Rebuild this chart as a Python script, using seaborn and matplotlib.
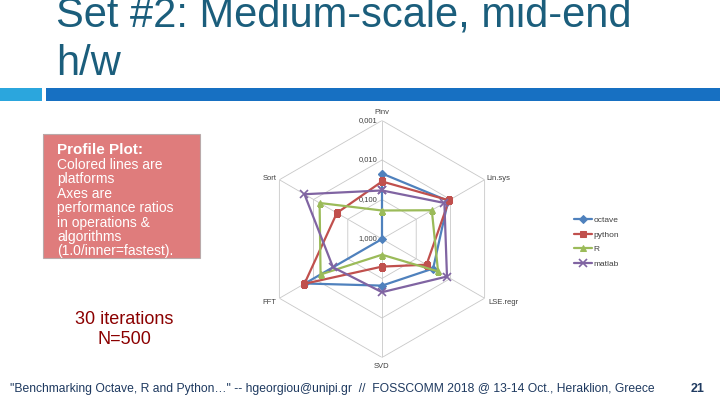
import numpy as np
import pandas as pd
import matplotlib
matplotlib.use("Agg")
import matplotlib.pyplot as plt
from matplotlib.patches import Rectangle
import seaborn as sns

# ---------------- data ----------------
axis_labels = ["Pinv", "Lin.sys", "LSE.regr", "SVD", "FFT", "Sort"]
platforms = ["octave", "python", "R", "matlab"]
octave = [0.022, 0.0117, 0.032, 0.066, 0.0056, 1.0]
python = [0.035, 0.011, 0.050, 0.20, 0.0054, 0.048]
r_vals = [0.19, 0.035, 0.023, 0.40, 0.016, 0.015]
matlab = [0.059, 0.015, 0.0126, 0.045, 0.037, 0.0054]
ring_values = [1.0, 0.1, 0.01, 0.001]
ring_labels = ["1,000", "0,100", "0,010", "0,001"]

series = {"octave": octave, "python": python, "R": r_vals, "matlab": matlab}
colors = {"octave": "#4F81BD", "python": "#C0504D", "R": "#9BBB59", "matlab": "#8064A2"}
markers = {"octave": "D", "python": "s", "R": "^", "matlab": "x"}
msizes = {"octave": 4, "python": 5, "R": 5, "matlab": 5.5}

n = len(axis_labels)
angles = [2 * np.pi * i / n for i in range(n)]

rows = []
for p in platforms:
    vals = series[p]
    for i in range(n + 1):
        k = i % n
        rows.append({"platform": p, "theta": 2 * np.pi * i / n,
                     "r": -np.log10(vals[k])})
df = pd.DataFrame(rows)

# ---------------- figure ----------------
sns.set_theme(style="white")
plt.rcParams["font.family"] = ["Liberation Sans", "DejaVu Sans"]

W, H = 720, 405
fig = plt.figure(figsize=(7.2, 4.05), dpi=100)
fig.patch.set_facecolor("white")

def fx(px):
    return px / W

def fy(py):
    return 1 - py / H

# title (top of first line is cut by the slide edge, as in the original)
title_color = "#1B5E7C"
fig.text(fx(56), fy(27), "Set #2: Medium-scale, mid-end", fontsize=30,
         color=title_color, va="baseline", ha="left")
fig.text(fx(56), fy(75), "h/w", fontsize=30, color=title_color,
         va="baseline", ha="left")

# header bars
fig.add_artist(Rectangle((fx(0), fy(101)), fx(42), 13 / H,
                         transform=fig.transFigure, color="#2BA6DD", lw=0))
fig.add_artist(Rectangle((fx(46), fy(101)), 1 - fx(46), 13 / H,
                         transform=fig.transFigure, color="#1770C2", lw=0))

# pink box
box = Rectangle((fx(43), fy(258)), fx(157), 124 / H, transform=fig.transFigure,
                facecolor="#DF7C7C", edgecolor="none")
fig.add_artist(box)
fig.add_artist(Rectangle((fx(43), fy(258)), fx(157), 124 / H,
                         transform=fig.transFigure, facecolor="none",
                         edgecolor="#B9A9A9", lw=0.8))
fig.text(fx(57), fy(150), "Profile Plot:", fontsize=11, fontweight="bold",
         color="white", va="center", ha="left")
box_lines = ["Colored lines are", "platforms", "Axes are", "performance ratios",
             "in operations &", "algorithms", "(1.0/inner=fastest)."]
for j, t in enumerate(box_lines):
    tt = fig.text(fx(57), fy(165 + 14.4 * j), t, fontsize=10, color="white",
                  va="center", ha="left")
    tt.set_clip_path(box)

fig.text(fx(124), fy(320), "30 iterations", fontsize=13, color="#8B0000",
         ha="center", va="center")
fig.text(fx(124), fy(339), "N=500", fontsize=13, color="#8B0000",
         ha="center", va="center")

# footer
fig.text(fx(10), fy(389), "\"Benchmarking Octave, R and Python…\" -- hgeorgiou@unipi.gr  //  "
         "FOSSCOMM 2018 @ 13-14 Oct., Heraklion, Greece", fontsize=8.7,
         color="#1F3A60", ha="left", va="center")
fig.text(fx(698), fy(389), "21", fontsize=9, color="#1F3A60",
         ha="center", va="center", fontweight="bold")

# ---------------- radar ----------------
cx, cy, R = 382, 239, 118.5
ax = fig.add_axes([fx(cx - R), 1 - (cy + R) / H, 2 * R / W, 2 * R / H],
                  projection="polar")
ax.set_theta_zero_location("N")
ax.set_theta_direction(-1)
ax.patch.set_alpha(0)

data_lines = []
for p in platforms:
    sub = df[df["platform"] == p]
    before = len(ax.lines)
    sns.lineplot(data=sub, x="theta", y="r", color=colors[p], marker=markers[p],
                 sort=False, estimator=None, linewidth=1.6,
                 markersize=msizes[p], markeredgecolor=colors[p],
                 markerfacecolor=colors[p],
                 markeredgewidth=1.2 if markers[p] == "x" else 0.75,
                 legend=False, ax=ax, zorder=3)
    data_lines.append(ax.lines[before])

grid_c = "#C8C8C8"
ring_r = [-np.log10(v) for v in ring_values]
closed = angles + [angles[0]]
for rr in ring_r[1:]:
    ax.plot(closed, [rr] * (n + 1), color=grid_c, lw=0.6, zorder=1)
for a in angles:
    ax.plot([a, a], [0, ring_r[-1]], color=grid_c, lw=0.6, zorder=1)

ax.set_ylim(0, 3)
ax.grid(False)
ax.spines["polar"].set_visible(False)
ax.set_xticks([])
ax.set_yticks([])
ax.set_xlabel("")
ax.set_ylabel("")

for rr, lab in zip(ring_r, ring_labels):
    ax.annotate(lab, xy=(0, rr), xytext=(-3.5, 0), textcoords="offset points",
                ha="right", va="center", fontsize=5.5, color="#404040", zorder=2)

px = 0.72
label_offsets = [((0, 8 * px), "center", "center"),
                 ((2 * px, 1 * px), "left", "center"),
                 ((4 * px, -4 * px), "left", "center"),
                 ((0, -9 * px), "center", "center"),
                 ((-3 * px, -4 * px), "right", "center"),
                 ((-3 * px, 1 * px), "right", "center")]
for a, lab, (off, ha, va) in zip(angles, axis_labels, label_offsets):
    ax.annotate(lab, xy=(a, 3), xytext=off, textcoords="offset points",
                ha=ha, va=va, fontsize=5.5, color="#404040")

fig.legend(data_lines, platforms, loc="upper left",
           bbox_to_anchor=(fx(566), fy(209)), frameon=False, fontsize=6,
           handlelength=2.2, handletextpad=0.2, labelspacing=0.8,
           labelcolor="#404040")

fig.savefig("out.png", dpi=100)
